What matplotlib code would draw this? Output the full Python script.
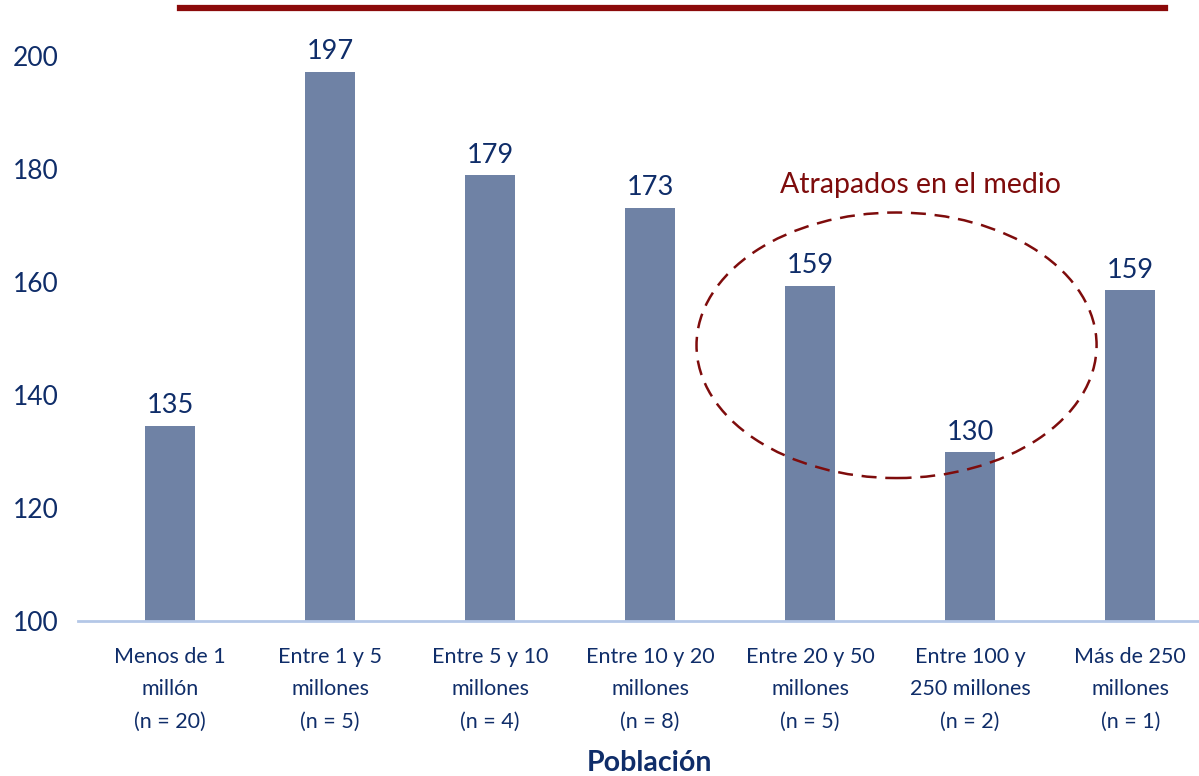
import matplotlib
matplotlib.use('Agg')
import matplotlib.pyplot as plt
from matplotlib.patches import Ellipse
from matplotlib.lines import Line2D

# --- data ---
categories = [
    "Menos de 1\nmillón\n(n = 20)",
    "Entre 1 y 5\nmillones\n(n = 5)",
    "Entre 5 y 10\nmillones\n(n = 4)",
    "Entre 10 y 20\nmillones\n(n = 8)",
    "Entre 20 y 50\nmillones\n(n = 5)",
    "Entre 100 y\n250 millones\n(n = 2)",
    "Más de 250\nmillones\n(n = 1)",
]
values = [134.6, 197.2, 178.9, 173.1, 159.3, 129.9, 158.5]
value_labels = ["135", "197", "179", "173", "159", "130", "159"]
yticks = [100, 120, 140, 160, 180, 200]

BAR = "#6F82A5"
NAVY = "#0F2D69"
RED = "#7E0C0C"

plt.rcParams['font.family'] = ['Lato', 'DejaVu Sans']

fig = plt.figure(figsize=(11.99, 7.76), dpi=100)
W, H = 1199, 776
ax = fig.add_axes([78 / W, 1 - 621 / H, (1199 - 78) / W, (621 - 27.75) / H])

x = list(range(len(categories)))
ax.bar(x, values, width=0.31, color=BAR, zorder=2)
for xi, v, lab in zip(x, values, value_labels):
    ax.annotate(lab, xy=(xi, v), xytext=(0, 9), textcoords='offset points',
                ha='center', va='baseline', fontsize=19.5, color=NAVY)

ax.set_xlim(-0.575, 6.43)
ax.set_ylim(100, 205)
ax.set_yticks(yticks)
ax.set_xticks(x)
ax.set_xticklabels(categories, fontsize=15.5, color=NAVY, linespacing=1.75)
ax.tick_params(axis='y', length=0, pad=14, labelsize=19, labelcolor=NAVY)
ax.tick_params(axis='x', length=0, pad=19)

for s in ['top', 'right', 'left']:
    ax.spines[s].set_visible(False)
ax.spines['bottom'].set_color("#B4C7E7")
ax.spines['bottom'].set_linewidth(2)

ax.set_xlabel("Población", fontsize=20.5, fontweight='bold', color=NAVY)
ax.xaxis.set_label_coords(0.51, -0.24)
ax.xaxis.label.set_va('center')

# "caught in the middle" highlight
ell = Ellipse((4.54, 148.8), width=2.5, height=47, fill=False,
              edgecolor=RED, linestyle=(0, (6, 3.5)), linewidth=1.8, zorder=3)
ax.add_patch(ell)
ax.text(4.69, 177.2, "Atrapados en el medio", ha='center', va='center',
        fontsize=20.5, color=RED)

# decorative top rule
fig.add_artist(Line2D([180 / W, 1165 / W], [1 - 8 / H, 1 - 8 / H],
                      color="#8B0A0A", linewidth=4.5))

fig.savefig("out.png", dpi=100)
